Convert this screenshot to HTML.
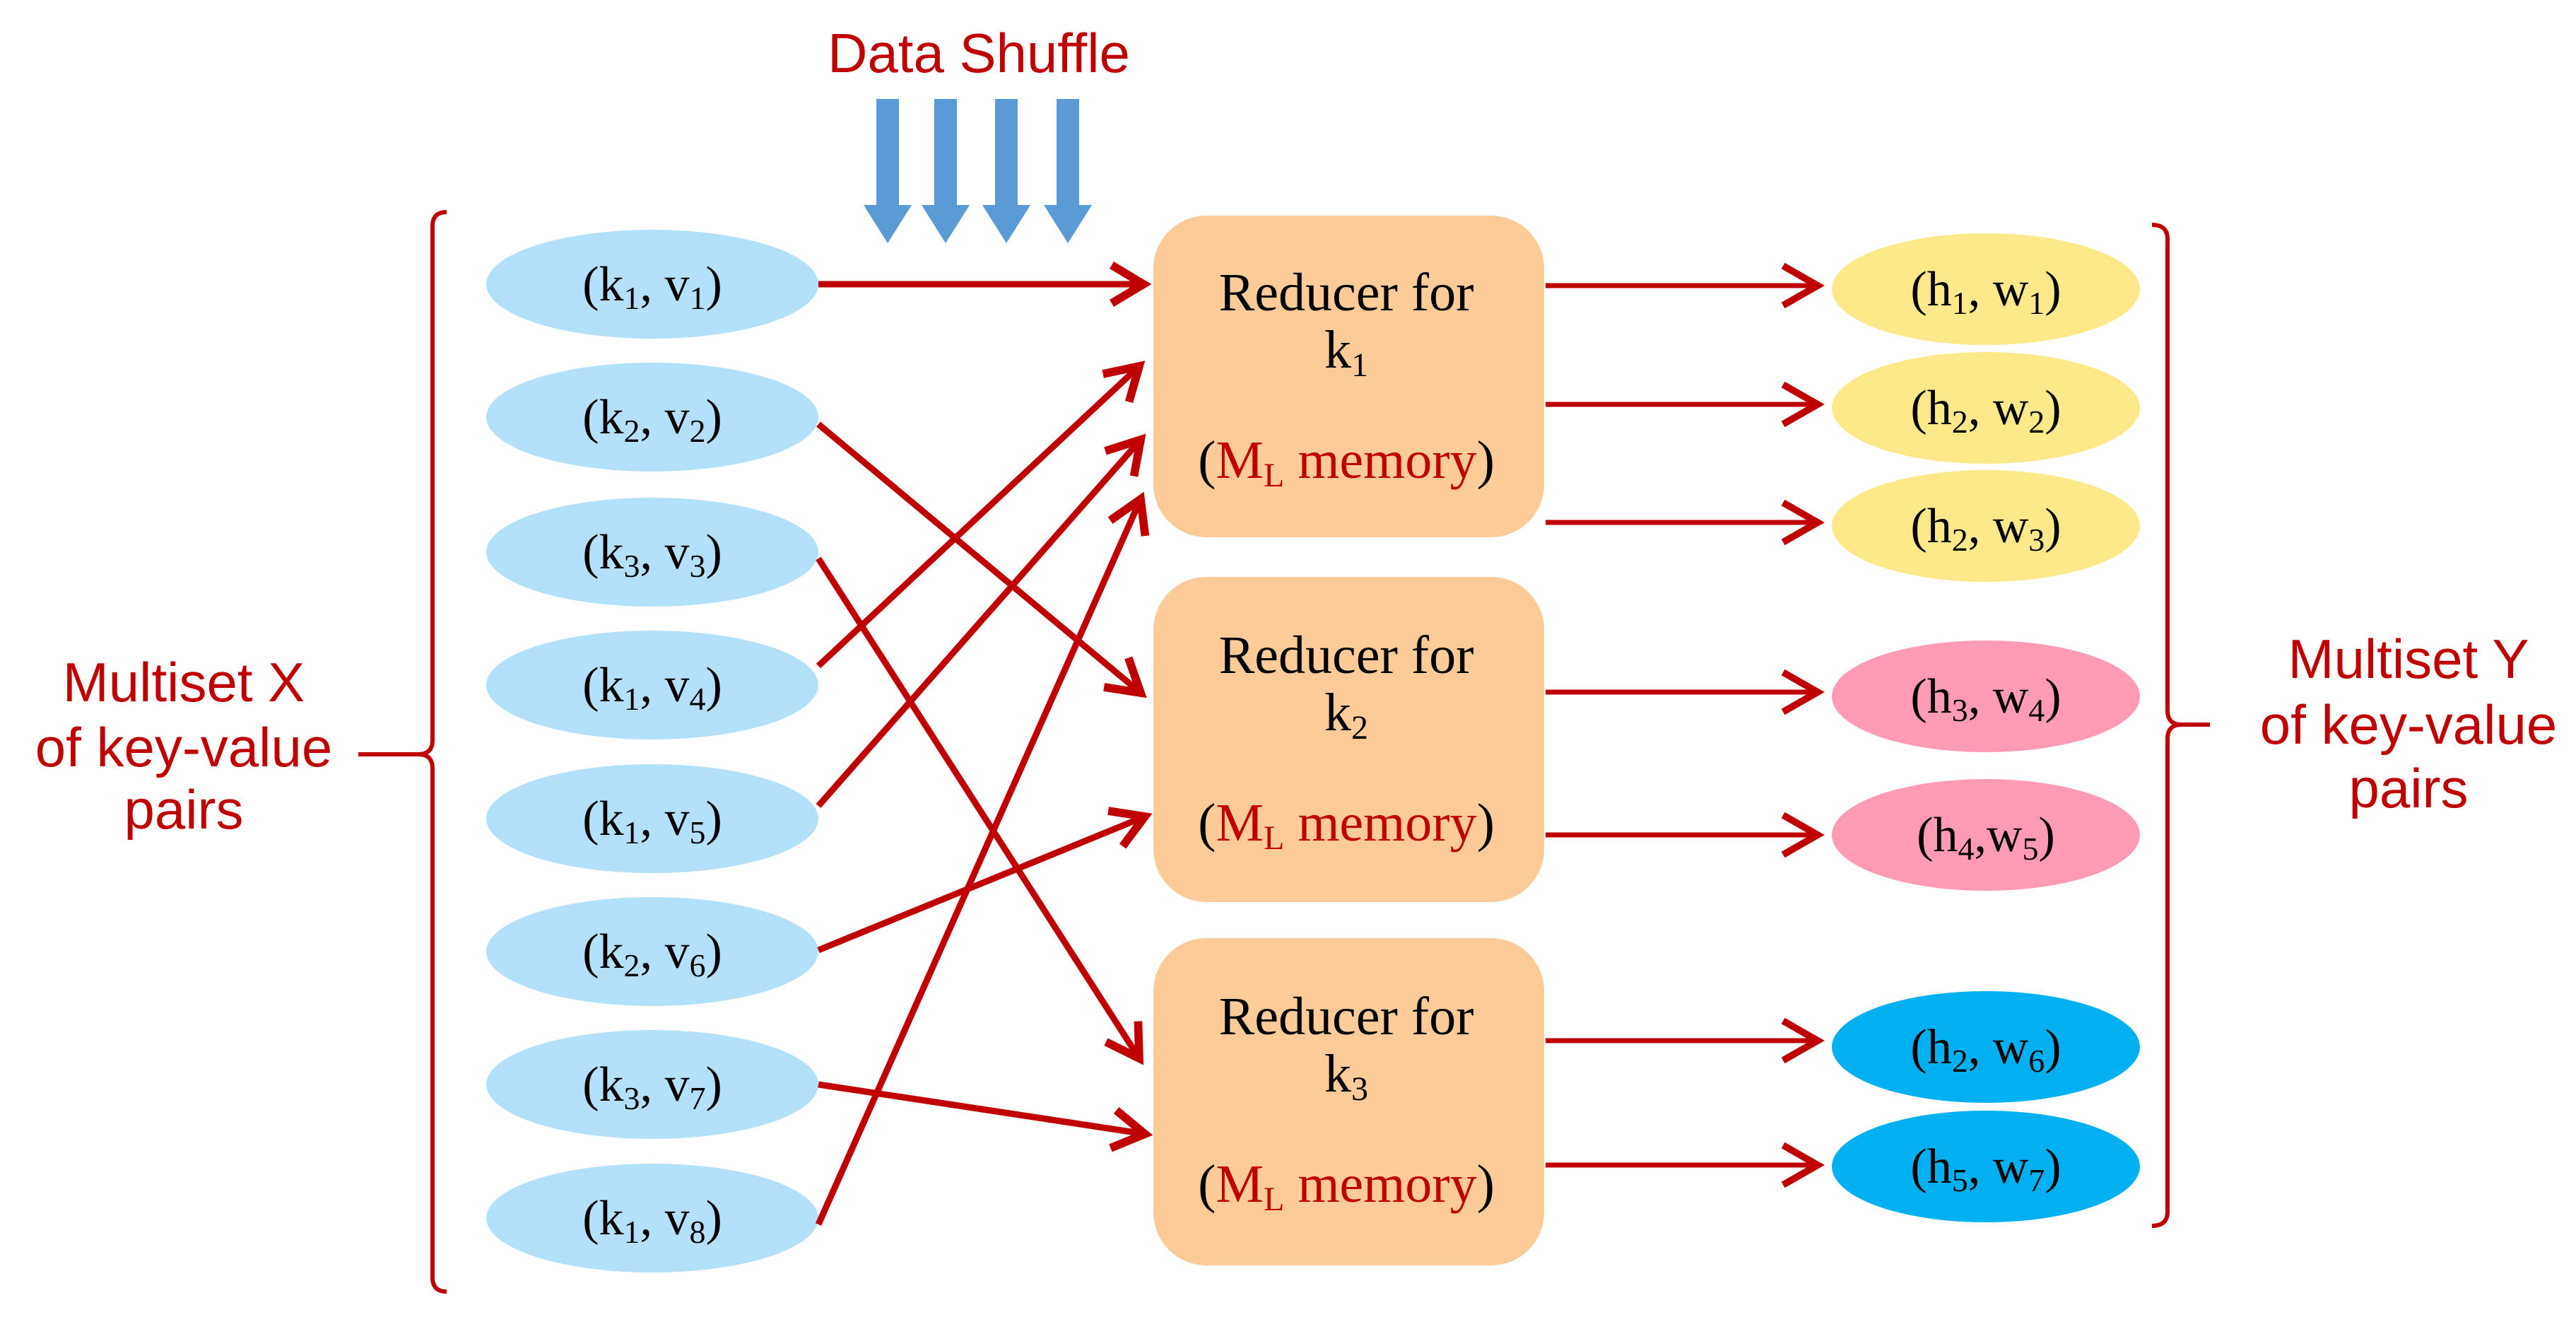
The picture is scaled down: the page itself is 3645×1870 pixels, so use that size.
<!DOCTYPE html>
<html><head><meta charset="utf-8"><style>
html,body{margin:0;padding:0;background:#fff}
svg{display:block}
.s{font-family:"Liberation Sans",sans-serif;fill:#c00000;font-size:78px;text-anchor:middle}
.t{font-family:"Liberation Serif",serif;font-size:70px;text-anchor:middle;fill:#000}
.u{font-family:"Liberation Serif",serif;font-size:76px;text-anchor:middle;fill:#000}
</style></head><body>
<svg width="3645" height="1870" viewBox="0 0 3645 1870" xmlns="http://www.w3.org/2000/svg">
<defs>
<marker id="a" markerWidth="8" markerHeight="8" refX="6" refY="4" orient="auto" markerUnits="strokeWidth"><path d="M1,1 L6,4 L1,7" fill="none" stroke="#c00000" stroke-width="1.3"/></marker>
<marker id="b" markerWidth="10" markerHeight="10" refX="8" refY="5" orient="auto" markerUnits="strokeWidth"><path d="M1,1 L8,5 L1,9" fill="none" stroke="#c00000" stroke-width="1.4"/></marker>
</defs>
<text class="s" x="1385" y="102">Data Shuffle</text>
<g fill="#5b9bd5">
<path d="M1240,140h32v150h18l-34,54l-34,-54h18z"/>
<path d="M1322,140h32v150h18l-34,54l-34,-54h18z"/>
<path d="M1408,140h32v150h18l-34,54l-34,-54h18z"/>
<path d="M1495,140h32v150h18l-34,54l-34,-54h18z"/>
</g>
<path d="M632,300 q-20,0 -20,20 V1047 q0,20 -20,20 q20,0 20,20 V1807 q0,20 20,20" fill="none" stroke="#c00000" stroke-width="6"/>
<line x1="507" y1="1067" x2="592" y2="1067" stroke="#c00000" stroke-width="6"/>
<text class="s" x="260" y="992">Multiset X</text>
<text class="s" x="260" y="1084">of key-value</text>
<text class="s" x="260" y="1172">pairs</text>
<path d="M3045,318 q22,0 22,20 V1005 q0,20 20,20 q-20,0 -20,20 V1714 q0,20 -22,20" fill="none" stroke="#c00000" stroke-width="6"/>
<line x1="3087" y1="1025" x2="3127" y2="1025" stroke="#c00000" stroke-width="6"/>
<text class="s" x="3408" y="959">Multiset Y</text>
<text class="s" x="3408" y="1052">of key-value</text>
<text class="s" x="3408" y="1142">pairs</text>
<g fill="#b3e0fb">
<ellipse cx="923" cy="402" rx="235" ry="77"/><ellipse cx="923" cy="590" rx="235" ry="77"/>
<ellipse cx="923" cy="781" rx="235" ry="77"/><ellipse cx="923" cy="969" rx="235" ry="77"/>
<ellipse cx="923" cy="1158" rx="235" ry="77"/><ellipse cx="923" cy="1346" rx="235" ry="77"/>
<ellipse cx="923" cy="1534" rx="235" ry="77"/><ellipse cx="923" cy="1723" rx="235" ry="77"/>
</g>
<g class="t">
<text x="923" y="425">(k<tspan font-size="46" dy="12">1</tspan><tspan dy="-12">, v</tspan><tspan font-size="46" dy="12">1</tspan><tspan dy="-12">)</tspan></text>
<text x="923" y="613">(k<tspan font-size="46" dy="12">2</tspan><tspan dy="-12">, v</tspan><tspan font-size="46" dy="12">2</tspan><tspan dy="-12">)</tspan></text>
<text x="923" y="804">(k<tspan font-size="46" dy="12">3</tspan><tspan dy="-12">, v</tspan><tspan font-size="46" dy="12">3</tspan><tspan dy="-12">)</tspan></text>
<text x="923" y="992">(k<tspan font-size="46" dy="12">1</tspan><tspan dy="-12">, v</tspan><tspan font-size="46" dy="12">4</tspan><tspan dy="-12">)</tspan></text>
<text x="923" y="1181">(k<tspan font-size="46" dy="12">1</tspan><tspan dy="-12">, v</tspan><tspan font-size="46" dy="12">5</tspan><tspan dy="-12">)</tspan></text>
<text x="923" y="1369">(k<tspan font-size="46" dy="12">2</tspan><tspan dy="-12">, v</tspan><tspan font-size="46" dy="12">6</tspan><tspan dy="-12">)</tspan></text>
<text x="923" y="1557">(k<tspan font-size="46" dy="12">3</tspan><tspan dy="-12">, v</tspan><tspan font-size="46" dy="12">7</tspan><tspan dy="-12">)</tspan></text>
<text x="923" y="1746">(k<tspan font-size="46" dy="12">1</tspan><tspan dy="-12">, v</tspan><tspan font-size="46" dy="12">8</tspan><tspan dy="-12">)</tspan></text>
</g>
<g fill="#fdcb98">
<rect x="1632" y="305" width="553" height="455" rx="75"/>
<rect x="1632" y="816" width="553" height="460" rx="75"/>
<rect x="1632" y="1327" width="553" height="463" rx="75"/>
</g>
<g class="u">
<text x="1905" y="439">Reducer for</text><text x="1905" y="520">k<tspan font-size="48" dy="12">1</tspan></text>
<text x="1905" y="676">(<tspan fill="#c00000">M</tspan><tspan fill="#c00000" font-size="48" dy="12">L</tspan><tspan fill="#c00000" dy="-12"> memory</tspan>)</text>
<text x="1905" y="952">Reducer for</text><text x="1905" y="1033">k<tspan font-size="48" dy="12">2</tspan></text>
<text x="1905" y="1189">(<tspan fill="#c00000">M</tspan><tspan fill="#c00000" font-size="48" dy="12">L</tspan><tspan fill="#c00000" dy="-12"> memory</tspan>)</text>
<text x="1905" y="1463">Reducer for</text><text x="1905" y="1544">k<tspan font-size="48" dy="12">3</tspan></text>
<text x="1905" y="1700">(<tspan fill="#c00000">M</tspan><tspan fill="#c00000" font-size="48" dy="12">L</tspan><tspan fill="#c00000" dy="-12"> memory</tspan>)</text>
</g>
<g stroke="#c00000" stroke-width="9" fill="none" marker-end="url(#a)">
<line x1="1158" y1="402" x2="1618" y2="402"/>
<line x1="1158" y1="600" x2="1614" y2="980"/>
<line x1="1158" y1="790" x2="1612" y2="1497"/>
<line x1="1158" y1="942" x2="1612" y2="518"/>
<line x1="1158" y1="1140" x2="1614" y2="622"/>
<line x1="1158" y1="1344" x2="1620" y2="1155"/>
<line x1="1158" y1="1534" x2="1620" y2="1604"/>
<line x1="1158" y1="1732" x2="1614" y2="706"/>
</g>
<g stroke="#c00000" stroke-width="7" fill="none" marker-end="url(#b)">
<line x1="2187" y1="404" x2="2572" y2="404"/>
<line x1="2187" y1="572" x2="2572" y2="572"/>
<line x1="2187" y1="739" x2="2572" y2="739"/>
<line x1="2187" y1="979" x2="2572" y2="979"/>
<line x1="2187" y1="1181" x2="2572" y2="1181"/>
<line x1="2187" y1="1472" x2="2572" y2="1472"/>
<line x1="2187" y1="1648" x2="2572" y2="1648"/>
</g>
<ellipse cx="2810" cy="409" rx="218" ry="79" fill="#fde98a"/>
<ellipse cx="2810" cy="577" rx="218" ry="79" fill="#fde98a"/>
<ellipse cx="2810" cy="744" rx="218" ry="79" fill="#fde98a"/>
<ellipse cx="2810" cy="985" rx="218" ry="79" fill="#ff9bb5"/>
<ellipse cx="2810" cy="1181" rx="218" ry="79" fill="#ff9bb5"/>
<ellipse cx="2810" cy="1481" rx="218" ry="79" fill="#00b0f0"/>
<ellipse cx="2810" cy="1650" rx="218" ry="79" fill="#00b0f0"/>
<g class="t">
<text x="2810" y="432">(h<tspan font-size="46" dy="12">1</tspan><tspan dy="-12">, w</tspan><tspan font-size="46" dy="12">1</tspan><tspan dy="-12">)</tspan></text>
<text x="2810" y="600">(h<tspan font-size="46" dy="12">2</tspan><tspan dy="-12">, w</tspan><tspan font-size="46" dy="12">2</tspan><tspan dy="-12">)</tspan></text>
<text x="2810" y="767">(h<tspan font-size="46" dy="12">2</tspan><tspan dy="-12">, w</tspan><tspan font-size="46" dy="12">3</tspan><tspan dy="-12">)</tspan></text>
<text x="2810" y="1008">(h<tspan font-size="46" dy="12">3</tspan><tspan dy="-12">, w</tspan><tspan font-size="46" dy="12">4</tspan><tspan dy="-12">)</tspan></text>
<text x="2810" y="1204">(h<tspan font-size="46" dy="12">4</tspan><tspan dy="-12">,w</tspan><tspan font-size="46" dy="12">5</tspan><tspan dy="-12">)</tspan></text>
<text x="2810" y="1504">(h<tspan font-size="46" dy="12">2</tspan><tspan dy="-12">, w</tspan><tspan font-size="46" dy="12">6</tspan><tspan dy="-12">)</tspan></text>
<text x="2810" y="1673">(h<tspan font-size="46" dy="12">5</tspan><tspan dy="-12">, w</tspan><tspan font-size="46" dy="12">7</tspan><tspan dy="-12">)</tspan></text>
</g>
</svg>
</body></html>
